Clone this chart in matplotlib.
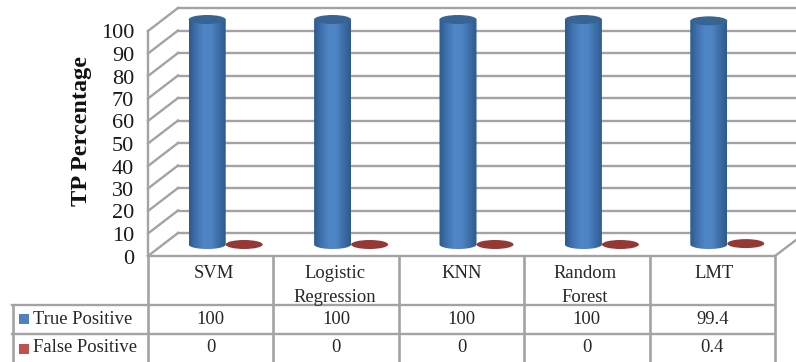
import numpy as np
import matplotlib
matplotlib.use("Agg")
import matplotlib.pyplot as plt
from matplotlib.colors import LinearSegmentedColormap
from matplotlib.lines import Line2D
from matplotlib.patches import Ellipse, PathPatch, Rectangle
from matplotlib.path import Path
from matplotlib.transforms import Affine2D

categories = ["SVM", "Logistic\nRegression", "KNN", "Random\nForest", "LMT"]
true_positive = [100, 100, 100, 100, 99.4]
false_positive = [0, 0, 0, 0, 0.4]
true_labels = ["100", "100", "100", "100", "99.4"]
false_labels = ["0", "0", "0", "0", "0.4"]
y_ticks = list(range(0, 101, 10))

W, H = 796, 362
plt.rcParams["font.family"] = ["Liberation Serif", "DejaVu Serif"]
fig = plt.figure(figsize=(W / 100, H / 100), dpi=100)
ax = fig.add_axes([148 / W, 1 - 256 / H, (775 - 148) / W, (256 - 31) / H])
ax.set_xlim(0, 5)
ax.set_ylim(0, 100)
for s in ax.spines.values():
    s.set_visible(False)
ax.patch.set_visible(False)
ax.set_xticks([])
ax.set_yticks(y_ticks)
ax.tick_params(axis="y", length=0, pad=10, labelsize=16, labelcolor="#1a1a1a")
for lab in ax.get_yticklabels():
    lab.set_verticalalignment("center")
    lab.set_transform(lab.get_transform() + Affine2D().translate(0, -3))

GRID = "#a3a3a3"
LW = 1.7


def px(x, y):
    """Figure coordinates for a position measured from the top-left corner."""
    return x / W, 1 - y / H


def fig_line(x0, y0, x1, y1, color=GRID, lw=LW, z=1):
    a, b = px(x0, y0), px(x1, y1)
    fig.add_artist(Line2D([a[0], b[0]], [a[1], b[1]], color=color, lw=lw,
                          transform=fig.transFigure, zorder=z))


# Back wall, side wall and floor of the box
back = ax.transData + Affine2D().translate(30, 23)
for v in y_ticks:
    ax.plot([0, 5.2], [v, v], color=GRID, lw=LW, transform=back, clip_on=False, zorder=1)
    y = 256 - 2.25 * v
    fig_line(148, y, 178, y - 23, z=0)
fig_line(148, 31, 148, 256)
fig_line(148, 256, 775, 256)
fig_line(775, 256, 796, 240)

# Cylinders sit halfway into the depth of the box
mid = ax.transData + Affine2D().translate(15, 11.5)
BAR_W = 37 / 125.4
ELL_H = 9 / 2.25
shade_blue = LinearSegmentedColormap.from_list(
    "cyl", ["#2d5a8e", "#3f72ae", "#5085c6", "#4f84c4", "#3d6ea8", "#2e5a8c"])


def cylinder(xc, value, top_color):
    x0, x1 = xc - BAR_W / 2, xc + BAR_W / 2
    t = np.linspace(np.pi, 2 * np.pi, 40)
    xs = xc + BAR_W / 2 * np.cos(t)
    ys = ELL_H / 2 * np.sin(t)
    verts = np.vstack([np.column_stack([xs, ys]), [[x1, value], [x0, value]], [[x0, 0]]])
    codes = [Path.MOVETO] + [Path.LINETO] * (len(verts) - 2) + [Path.CLOSEPOLY]
    outline = PathPatch(Path(verts, codes), fc="none", ec="none", transform=mid,
                        clip_on=False, zorder=3)
    ax.add_patch(outline)
    grad = np.linspace(0, 1, 128).reshape(1, -1)
    im = ax.imshow(grad, extent=[x0, x1, -ELL_H, value], aspect="auto", cmap=shade_blue,
                   transform=mid, zorder=3)
    im.set_clip_path(outline)
    im.set_clip_box(fig.bbox)
    ax.add_patch(Ellipse((xc, value), BAR_W, ELL_H, fc=top_color, ec="none",
                         transform=mid, clip_on=False, zorder=4))


group = np.arange(len(categories)) + 0.5
for i, xc in enumerate(group):
    cylinder(xc - BAR_W / 2, true_positive[i], "#386494")
    ax.add_patch(Ellipse((xc + BAR_W / 2, false_positive[i]), BAR_W, ELL_H, fc="#953735",
                         ec="none", transform=mid, clip_on=False, zorder=4))
ax.set_xlim(0, 5)
ax.set_ylim(0, 100)
ax.set_aspect("auto")

# Data table below the plot
cols = [148 + 125.4 * i for i in range(6)]
for x in cols:
    fig_line(x, 256, x, 362, lw=1.9)
fig_line(12, 305, 775, 305)
fig_line(12, 334, 775, 334)
fig_line(13, 305, 13, 362, lw=1.9)

TABLE_FS = 13.4
TXT = "#262626"
header_nudge = [3, -1, 0, -2, 2]
for i, xc in enumerate(group):
    fx = 148 + 125.4 * xc
    lines = categories[i].split("\n")
    for j, part in enumerate(lines):
        fig.text((fx + header_nudge[i]) / W, px(0, 274 + 23 * j)[1], part, ha="center",
                 va="center", fontsize=TABLE_FS, color=TXT)
    fig.text(fx / W, px(0, 320)[1], true_labels[i], ha="center", va="center",
             fontsize=TABLE_FS, color=TXT)
    fig.text(fx / W, px(0, 348)[1], false_labels[i], ha="center", va="center",
             fontsize=TABLE_FS, color=TXT)

# Legend keys inside the table's first column
for name, col, yc, ty in [("True Positive", "#4f81bd", 319, 320),
                          ("False Positive", "#c0504d", 349, 348)]:
    lx, ly = px(19, yc + 5)
    fig.add_artist(Rectangle((lx, ly), 10 / W, 10 / H, fc=col, ec="none",
                             transform=fig.transFigure))
    fig.text(33 / W, px(0, ty)[1], name, ha="left", va="center",
             fontsize=TABLE_FS, color=TXT)

fig.text(82 / W, px(0, 131)[1], "TP Percentage", rotation=90, ha="center", va="center",
         fontsize=17.5, fontweight="bold", color="#111111")

fig.savefig("out.png", dpi=100)
